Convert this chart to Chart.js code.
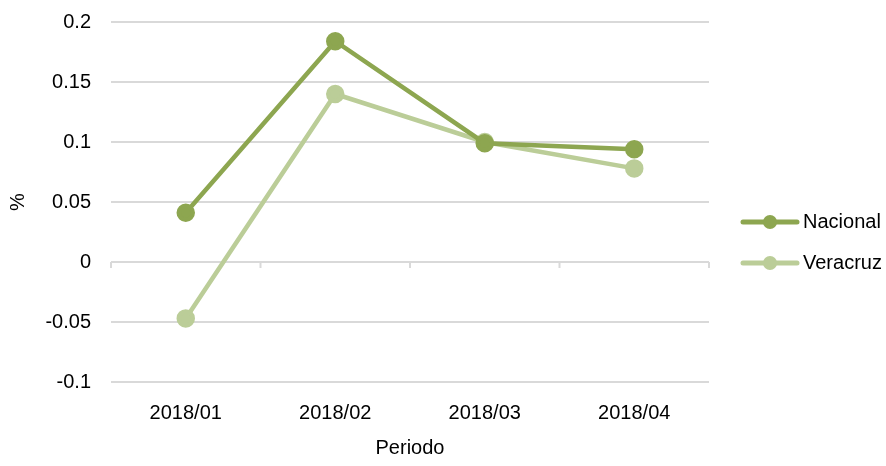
<!DOCTYPE html>
<html>
<head>
<meta charset="utf-8">
<script src="https://cdn.jsdelivr.net/npm/chart.js@4/dist/chart.umd.min.js"></script>
<style>
  html, body { margin: 0; padding: 0; background: #fff; overflow: hidden; }
  /* canvas is 10px taller and shifted up so the plot top sits where the original's does */
  #wrap { width: 886px; height: 476px; margin-top: -10px; }
</style>
</head>
<body>
<div id="wrap"><canvas id="chart"></canvas></div>
<script>
// DATA
const periodos = ["2018/01", "2018/02", "2018/03", "2018/04"];
const nacional = [0.041, 0.184, 0.099, 0.094];
const veracruz = [-0.047, 0.140, 0.100, 0.078];
const seriesNames = ["Nacional", "Veracruz"];
const seriesColors = ["#8da650", "#bbcd98"];

const FONT = "'Liberation Sans', Arial, sans-serif";
const FSIZE = 20;
const GRID = "#d9d9d9";

// zero line tick marks between categories
const zeroTicks = {
  id: "zeroTicks",
  afterDatasetsDraw(chart) {
    const x = chart.scales.x, y = chart.scales.y, c = chart.ctx;
    const step = x.getPixelForValue(1) - x.getPixelForValue(0);
    const y0 = y.getPixelForValue(0);
    c.save();
    c.strokeStyle = GRID;
    c.lineWidth = 2;
    for (let i = 0; i <= periodos.length; i++) {
      const px = x.getPixelForValue(0) - step / 2 + i * step;
      c.beginPath();
      c.moveTo(px, y0);
      c.lineTo(px, y0 + 6);
      c.stroke();
    }
    c.restore();
  }
};

// legend with line + marker, like the original
const lineLegend = {
  id: "lineLegend",
  afterDraw(chart) {
    const c = chart.ctx;
    const left = chart.chartArea.right + 34;
    const rows = [232, 273];
    c.save();
    chart.data.datasets.forEach((ds, i) => {
      const yy = rows[i];
      c.strokeStyle = ds.borderColor;
      c.lineWidth = 5;
      c.lineCap = "round";
      c.beginPath();
      c.moveTo(left, yy);
      c.lineTo(left + 54, yy);
      c.stroke();
      c.fillStyle = ds.borderColor;
      c.beginPath();
      c.arc(left + 27, yy, 7, 0, Math.PI * 2);
      c.fill();
      c.fillStyle = "#000";
      c.font = FSIZE + "px " + FONT;
      c.textAlign = "left";
      c.textBaseline = "middle";
      c.fillText(ds.label, left + 60, yy);
    });
    c.restore();
  }
};

new Chart(document.getElementById("chart"), {
  type: "line",
  data: {
    labels: periodos,
    datasets: [
      {
        label: seriesNames[0],
        data: nacional,
        borderColor: seriesColors[0],
        backgroundColor: seriesColors[0],
        borderWidth: 4.5,
        pointRadius: 7,
        pointHoverRadius: 7,
        fill: false,
        tension: 0,
      },
      {
        label: seriesNames[1],
        data: veracruz,
        borderColor: seriesColors[1],
        backgroundColor: seriesColors[1],
        borderWidth: 4.5,
        pointRadius: 7,
        pointHoverRadius: 7,
        fill: false,
        tension: 0,
      },
    ],
  },
  options: {
    responsive: true,
    maintainAspectRatio: false,
    animation: false,
    layout: { padding: { top: 0, right: 177, bottom: 0, left: 0 } },
    plugins: {
      legend: { display: false },
      tooltip: { enabled: false },
    },
    scales: {
      x: {
        offset: true,
        grid: { display: false },
        border: { display: false },
        ticks: { color: "#000", font: { family: FONT, size: FSIZE }, padding: 11 },
        title: { display: true, text: "Periodo", color: "#000", font: { family: FONT, size: FSIZE }, padding: { top: 4, bottom: 6 } },
        afterFit(scale) { scale.height = 84; },
      },
      y: {
        min: -0.1,
        max: 0.2,
        grid: { color: GRID, lineWidth: 2, drawTicks: false },
        border: { display: false },
        ticks: {
          stepSize: 0.05,
          color: "#000",
          font: { family: FONT, size: FSIZE },
          padding: 20,
          callback: (v) => String(Math.round(v * 100) / 100),
        },
        title: { display: true, text: "%", color: "#000", font: { family: FONT, size: FSIZE }, padding: { top: 6, bottom: 4 } },
        afterFit(scale) { scale.width = 111; },
      },
    },
  },
  plugins: [zeroTicks, lineLegend],
});
</script>
</body>
</html>
